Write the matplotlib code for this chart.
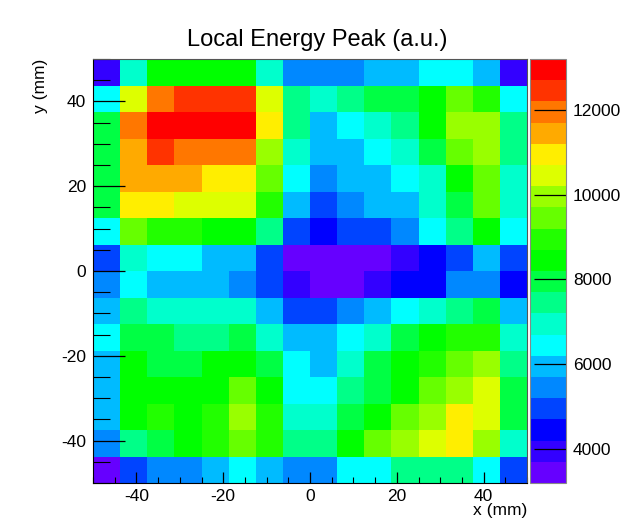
import numpy as np
import matplotlib
matplotlib.use("Agg")
import matplotlib.pyplot as plt
from matplotlib.colors import ListedColormap, BoundaryNorm
from matplotlib.ticker import MultipleLocator

plt.rcParams['font.family'] = ['Liberation Sans', 'DejaVu Sans']
plt.rcParams['axes.unicode_minus'] = False

# bin edges (mm)
x_edges = np.linspace(-50, 50, 17)
y_edges = np.linspace(-50, 50, 17)

# contour levels of the colour scale
levels = np.arange(3200, 13201, 500)

palette = ["#6600FF", "#3300FF", "#0000FF", "#0044FF", "#0088FF", "#00BBFF",
           "#00FFFF", "#00FFCC", "#00FF88", "#00FF44", "#00FF00", "#22FF00",
           "#66FF00", "#99FF00", "#DDFF00", "#FFEE00", "#FFAA00", "#FF7700",
           "#FF3300", "#FF0000"]

# Local energy peak values, rows from top (y=50) to bottom (y=-50), columns x=-50..50
energy_rows = [
    [3950, 6950, 8450, 8450, 8450, 8450, 6950, 5450, 5450, 5450, 5950, 5950, 6450, 6450, 5950, 3950],
    [6450, 10450, 11950, 12450, 12450, 12450, 10450, 7450, 6950, 7450, 7950, 7950, 8450, 9450, 8950, 6450],
    [7950, 11950, 12950, 12950, 12950, 12950, 10950, 7450, 5950, 6450, 6950, 7450, 8450, 9950, 9950, 7450],
    [7950, 11450, 12450, 11950, 11950, 11950, 9950, 6950, 5950, 5950, 6450, 6950, 7950, 9450, 9950, 7450],
    [7950, 11450, 11450, 11450, 10950, 10950, 9450, 6450, 5450, 5950, 5950, 6450, 6950, 8450, 9450, 6950],
    [7950, 10950, 10950, 10450, 10450, 10450, 8950, 5950, 4950, 5450, 5950, 5950, 6950, 7950, 9450, 6950],
    [6450, 9450, 8950, 8950, 8450, 8450, 7450, 4950, 4450, 4950, 4950, 5450, 6450, 7450, 8450, 6450],
    [4950, 6950, 6450, 6450, 5950, 5950, 4950, 3450, 3450, 3450, 3450, 3950, 4450, 4950, 5950, 4950],
    [5450, 6450, 5950, 5950, 5950, 5450, 4950, 3950, 3450, 3450, 3950, 4450, 4450, 5450, 5450, 4450],
    [5950, 7450, 6950, 6950, 6950, 6950, 5950, 4950, 4950, 5450, 5950, 6450, 6950, 7450, 7950, 5950],
    [6450, 7950, 7950, 7450, 7450, 7950, 6950, 5950, 5950, 6450, 6950, 7950, 8450, 8950, 8950, 6950],
    [5950, 8450, 7950, 7950, 8450, 8450, 7950, 6450, 5950, 6950, 7950, 8450, 8950, 9450, 9950, 7450],
    [5950, 8450, 8450, 8450, 8450, 9450, 8450, 6450, 6450, 7450, 7950, 8450, 9450, 9950, 10450, 7950],
    [5950, 8450, 8950, 8450, 8950, 9950, 8950, 6950, 6950, 7950, 8450, 9450, 9950, 10950, 10450, 7950],
    [5450, 7450, 7950, 8450, 8950, 9450, 8950, 7450, 7450, 8450, 9450, 9950, 10450, 10950, 9950, 6950],
    [3450, 4950, 5450, 5450, 5950, 6450, 5950, 5450, 5450, 6450, 6450, 7450, 7450, 7450, 6450, 4950],
]

title = "Local Energy Peak (a.u.)"
x_label = "x (mm)"
y_label = "y (mm)"
x_ticks = [-40, -20, 0, 20, 40]
y_ticks = [-40, -20, 0, 20, 40]
cbar_ticks = [4000, 6000, 8000, 10000, 12000]

Z = np.array(energy_rows)[::-1]  # bottom row first

cmap = ListedColormap(palette)
norm = BoundaryNorm(levels, cmap.N)

fig = plt.figure(figsize=(6.28, 5.28), dpi=100)
W, H = 628, 528
ax = fig.add_axes([93 / W, 1 - 483 / H, 434 / W, 424 / H])
cax = fig.add_axes([530 / W, 1 - 483 / H, 36 / W, 424 / H])

mesh = ax.pcolormesh(x_edges, y_edges, Z, cmap=cmap, norm=norm)
ax.set_xlim(-50, 50)
ax.set_ylim(-50, 50)
ax.set_xticks(x_ticks)
ax.set_yticks(y_ticks)
ax.xaxis.set_minor_locator(MultipleLocator(5))
ax.yaxis.set_minor_locator(MultipleLocator(5))
ax.tick_params(axis='x', which='major', direction='in', length=8, width=0.9,
               labelsize=12.5, pad=4, top=False)
ax.tick_params(axis='x', which='minor', direction='in', length=4, width=0.8, top=False)
ax.tick_params(axis='y', which='major', direction='in', length=23, width=0.9,
               labelsize=12.5, pad=5, right=False)
ax.tick_params(axis='y', which='minor', direction='in', length=12, width=0.8, right=False)
for s in ax.spines.values():
    s.set_linewidth(0.8)
    s.set_color('#555555')
ax.spines['bottom'].set_color('black')
ax.spines['left'].set_color('black')

fig.text(317 / W, 1 - 40 / H, title, ha='center', va='center', fontsize=17)
ax.text(1.0, -0.066, x_label, transform=ax.transAxes, ha='right', va='center',
        fontsize=12.5)
ax.text(-0.12, 1.0, y_label, transform=ax.transAxes, ha='center', va='top',
        rotation=90, fontsize=12.5)

cb = fig.colorbar(mesh, cax=cax, ticks=cbar_ticks)
cb.outline.set_linewidth(0.8)
cb.outline.set_edgecolor('#888888')
cax.tick_params(direction='in', length=23, width=0.9, labelsize=12.5, pad=5)
cax.minorticks_off()

fig.savefig("out.png", dpi=100, facecolor='white')
